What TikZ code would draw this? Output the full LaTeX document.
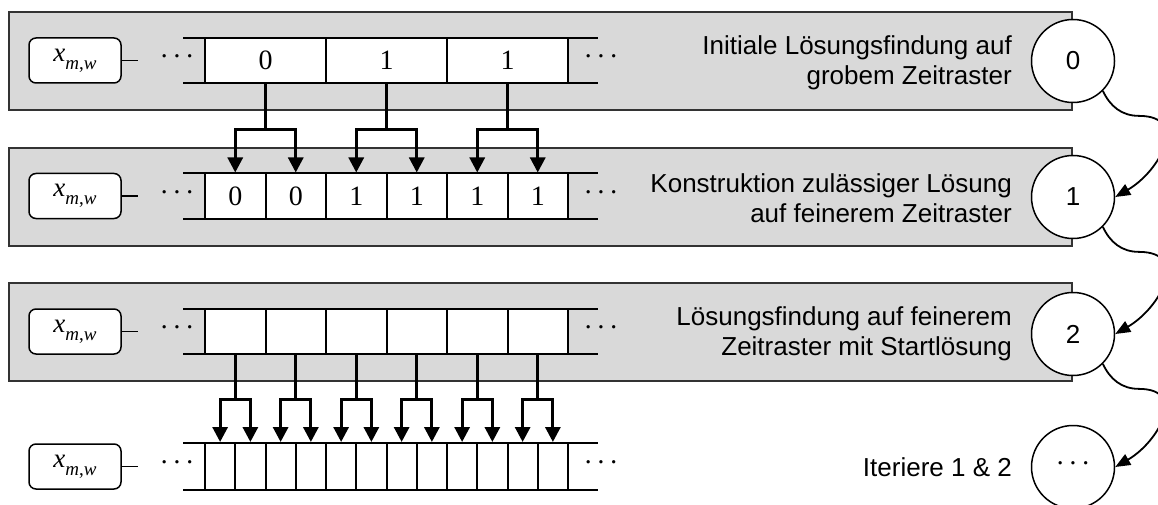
\documentclass[tikz,border=0pt]{standalone}
\usepackage{fontspec}
\setmainfont{Liberation Serif}
\setsansfont{Liberation Sans}
\usetikzlibrary{arrows.meta}

% variable name in the boxes on the left
\newcommand\xmw{\textit{x}\raisebox{-0.3em}{\fontsize{19}{19}\selectfont\textit{m},\textit{w}}}
% three dots
\newcommand\tdots{·\hspace{3.5pt}·\hspace{3.5pt}·}

\tikzset{
  stage/.style={draw=black!80, fill=black!15, line width=1.5pt},
  rail/.style={line width=2pt},
  cell/.style={draw, fill=white, line width=2pt, minimum height=45pt, inner sep=0pt, font=\fontsize{28}{30}\selectfont},
  var/.style={draw, fill=white, rounded corners=7pt, line width=1.5pt, minimum width=92pt, minimum height=45pt, inner sep=0pt, font=\fontsize{27}{30}\selectfont},
  dots/.style={inner sep=0pt, font=\fontsize{28}{30}\selectfont},
  phase/.style={draw, circle, fill=white, line width=1.5pt, minimum size=83pt, inner sep=0pt, font=\sffamily\fontsize{26}{30}\selectfont},
  descr/.style={anchor=east, align=right, inner sep=0pt, font=\sffamily\fontsize{26}{30}\selectfont},
  fork/.style={-{Triangle[length=15pt,width=15pt]}, line width=3pt},
  iter/.style={-{Triangle[length=15pt,width=12pt]}, line width=1.8pt},
}

\begin{document}
\begin{tikzpicture}[x=1pt,y=1pt]
\useasboundingbox (0,0) rectangle (1158,-505);

% the three stages
\draw[stage] (9,-12) rectangle (1072,-110);
\draw[stage] (9,-148) rectangle (1072,-246);
\draw[stage] (9,-283) rectangle (1072,-381);

% rows of the time grid
\draw[rail] (183,-38) -- (598,-38) (183,-83) -- (598,-83);
\draw[rail] (183,-173) -- (598,-173) (183,-219) -- (598,-219);
\draw[rail] (183,-309) -- (598,-309) (183,-354) -- (598,-354);
\draw[rail] (183,-443) -- (598,-443) (183,-490) -- (598,-490);

\foreach \v [count=\i] in {0,1,1}
  \node[cell, minimum width=121pt] (a\i) at ({205+121*(\i-0.5)},-60.5) {\v};
\foreach \v [count=\i] in {0,0,1,1,1,1}
  \node[cell, minimum width=60.5pt] (b\i) at ({205+60.5*(\i-0.5)},-196) {\v};
\foreach \i in {1,...,6}
  \node[cell, minimum width=60.5pt, minimum height=45pt] (c\i) at ({205+60.5*(\i-0.5)},-331.5) {};
\foreach \i in {1,...,12}
  \node[cell, minimum width=30.25pt, minimum height=47pt] (d\i) at ({205+30.25*(\i-0.5)},-466.5) {};

% dots and variable boxes
\foreach \r/\y in {a/-60.5,b/-196,c/-331.5,d/-466.5} {
  \node[dots] (l\r) at (177,\y) {\tdots};
  \node[dots] (r\r) at (601,\y) {\tdots};
  \node[var] (x\r) at (75,\y) {\xmw};
  \draw[line width=1.5pt] (x\r.east) -- ++(16,0);
}

% refinement arrows
\foreach \i/\j/\k in {1/1/2,2/3/4,3/5/6} {
  \draw[fork] (a\i.south) -- ++(0,-46) -| (b\j.north);
  \draw[fork] (a\i.south) -- ++(0,-46) -| (b\k.north);
}
\foreach \i in {1,...,6} {
  \pgfmathtruncatemacro\j{2*\i-1}
  \pgfmathtruncatemacro\k{2*\i}
  \draw[fork] (c\i.south) -- ++(0,-44) -| (d\j.north);
  \draw[fork] (c\i.south) -- ++(0,-44) -| (d\k.north);
}

% descriptions
\node[descr] (ta) at (1012,-63) {Initiale Lösungsfindung auf\\grobem Zeitraster};
\node[descr] (tb) at (1012,-198) {Konstruktion zulässiger Lösung\\auf feinerem Zeitraster};
\node[descr] (tc) at (1012,-334) {Lösungsfindung auf feinerem\\Zeitraster mit Startlösung};
\node[descr] (td) at (1012,-467) {Iteriere 1 \& 2};

% phases
\node[phase] (p0) at (1073,-61) {0};
\node[phase] (p1) at (1073,-197) {1};
\node[phase] (p2) at (1073,-334) {2};
\node[phase, font=\fontsize{28}{30}\selectfont] (p3) at (1073,-467) {\tdots};

\foreach \s/\t in {p0/p1,p1/p2,p2/p3}
  \draw[iter] (\s.-45) to[out=-65,in=180] ++(36,-25) to[out=0,in=30,looseness=1.55] (\t.east);

\end{tikzpicture}
\end{document}
